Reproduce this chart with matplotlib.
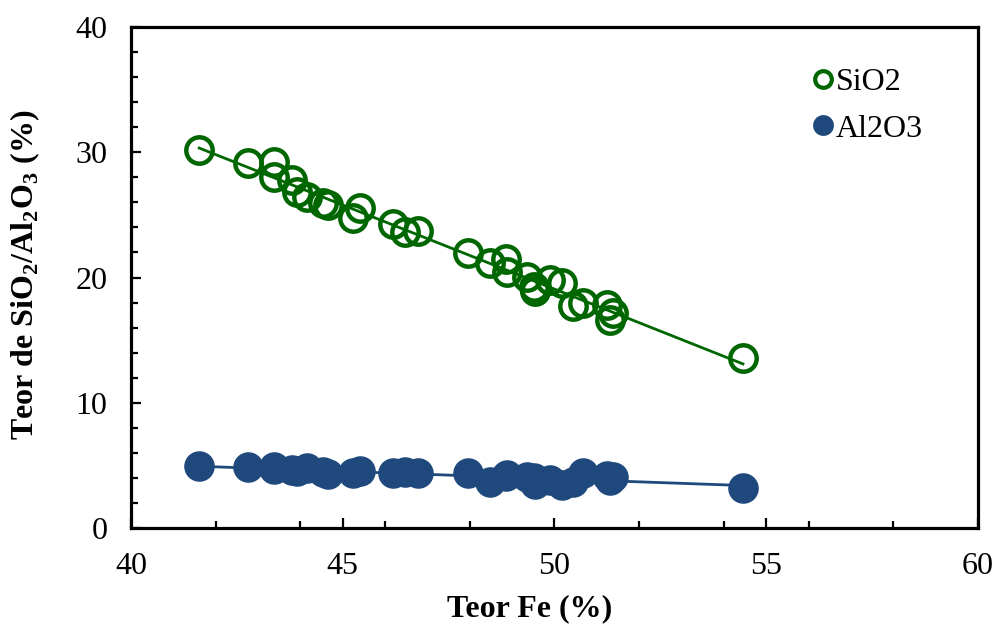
import numpy as np
import matplotlib
matplotlib.use("Agg")
import matplotlib.pyplot as plt
from matplotlib.ticker import MultipleLocator

# Fe grade (%) for each sample
fe = [41.61, 42.76, 43.38, 43.38, 43.80, 43.92, 44.16, 44.53, 44.65, 45.24,
      45.41, 46.19, 46.47, 46.78, 47.96, 48.48, 48.85, 48.88, 49.35, 49.52,
      49.54, 49.89, 50.18, 50.44, 50.67, 51.24, 51.31, 51.38, 54.45]

# SiO2 grade (%)
sio2 = [30.18, 29.14, 29.22, 28.02, 27.78, 26.83, 26.43, 25.95, 25.79, 24.75,
        25.55, 24.27, 23.63, 23.71, 21.96, 21.16, 21.48, 20.44, 20.04, 19.24,
        18.92, 19.80, 19.56, 17.72, 17.96, 17.80, 16.61, 17.17, 13.57]

# Al2O3 grade (%)
al2o3 = [4.95, 4.87, 4.87, 4.71, 4.63, 4.55, 4.79, 4.47, 4.31, 4.39,
         4.55, 4.39, 4.47, 4.39, 4.39, 3.67, 4.15, 4.23, 4.07, 3.99,
         3.51, 3.83, 3.43, 3.67, 4.39, 4.15, 3.83, 4.07, 3.19]

green = "#006600"
blue = "#1F497D"

plt.rcParams["font.family"] = ["Liberation Serif", "DejaVu Serif"]
plt.rcParams["mathtext.fontset"] = "custom"
plt.rcParams["mathtext.rm"] = "Liberation Serif"
plt.rcParams["mathtext.bf"] = "Liberation Serif:bold"

FS = 23

fig = plt.figure(figsize=(9.96, 6.24), dpi=100)
ax = fig.add_axes([0.1315, 0.1538, 0.8504, 0.8029])

fe_arr = np.array(fe)
xs = np.array([fe_arr.min(), fe_arr.max()])

# Linear trend lines
for vals, col in ((sio2, green), (al2o3, blue)):
    k, b = np.polyfit(fe_arr, np.array(vals), 1)
    ax.plot(xs, k * xs + b, color=col, lw=2.0, zorder=2)

ax.plot(fe, sio2, linestyle="none", marker="o", ms=19, mew=3.2,
        mfc="none", mec=green, zorder=3)
ax.plot(fe, al2o3, linestyle="none", marker="o", ms=22, mew=0,
        mfc=blue, mec=blue, zorder=3)

ax.set_xlim(40, 60)
ax.set_ylim(0, 40)
ax.xaxis.set_major_locator(MultipleLocator(5))
ax.xaxis.set_minor_locator(MultipleLocator(2))
ax.yaxis.set_major_locator(MultipleLocator(10))
ax.yaxis.set_minor_locator(MultipleLocator(2))

for s in ax.spines.values():
    s.set_linewidth(2.3)
ax.tick_params(which="major", direction="in", length=7, width=1.6,
               labelsize=FS, pad=17)
ax.tick_params(which="minor", direction="in", length=5, width=1.6)

ax.set_xlabel("Teor Fe (%)", fontsize=FS, fontweight="bold")
ax.set_ylabel(r"Teor de SiO$_\mathbf{2}$/Al$_\mathbf{2}$O$_\mathbf{3}$ (%)",
              fontsize=FS, fontweight="bold")
ax.xaxis.set_label_coords(0.471, -0.133)
ax.yaxis.set_label_coords(-0.105, 0.505)

# Legend
h1, = ax.plot([], [], linestyle="none", marker="o", ms=12, mew=3.0,
              mfc="none", mec=green)
h2, = ax.plot([], [], linestyle="none", marker="o", ms=15, mew=0,
              mfc=blue, mec=blue)
ax.legend([h1, h2], ["SiO2", "Al2O3"], loc="upper right",
          bbox_to_anchor=(0.95, 0.945), frameon=False, fontsize=FS,
          handlelength=0.7, handletextpad=0.05, labelspacing=0.55,
          borderaxespad=0)

fig.savefig("out.png", dpi=100)
